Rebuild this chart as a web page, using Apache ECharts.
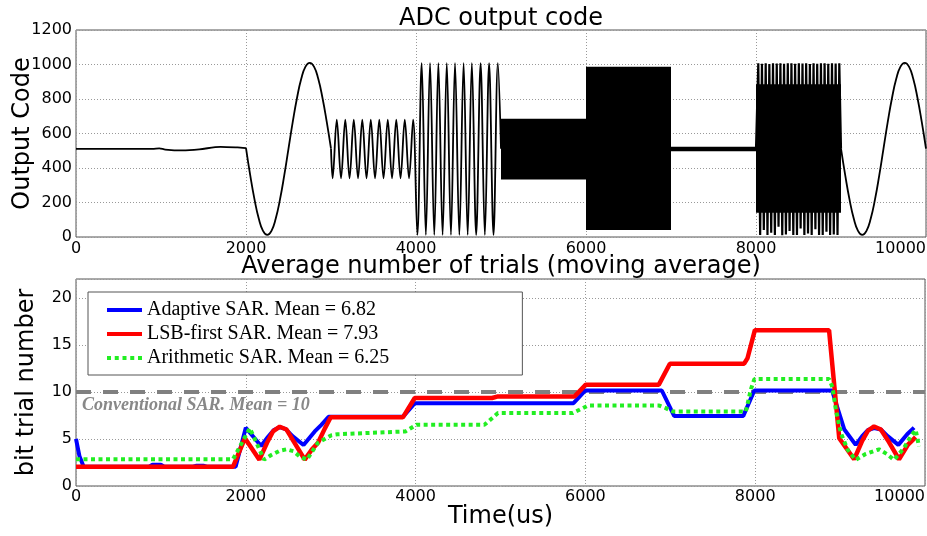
<!DOCTYPE html>
<html><head><meta charset="utf-8">
<script src="https://cdn.jsdelivr.net/npm/echarts@6/dist/echarts.min.js"></script>
<style>html,body{margin:0;padding:0;background:#fff}#c{width:927px;height:536px}</style>
</head><body><div id="c"></div>
<script>
// ================= DATA =================
// Top panel: ADC output code (time in us, code)
const codeFlat = [[0,511],[900,511],[980,514],[1050,507],[1250,502],[1450,508],[1700,523],[1900,519],[2000,515]];
const codeSineA = [[2000,515],[2050,357],[2100,218],[2150,107],[2200,36],[2250,12],[2300,36],[2350,107],[2400,218],[2450,357],[2500,512],[2550,667],[2600,806],[2650,917],[2700,988],[2750,1010],[2800,988],[2850,917],[2900,806],[2950,667],[3000,512]];
const codeOsc = [[3000,512],[3019,340],[3068,680],[3118,340],[3168,680],[3218,340],[3268,680],[3318,340],[3368,680],[3418,340],[3468,680],[3518,340],[3568,680],[3618,340],[3668,680],[3718,340],[3768,680],[3818,340],[3868,680],[3918,340],[3966,680],
  [4016,12],[4067,1008],[4116,12],[4165,1008],[4215,12],[4263,1008],[4313,12],[4362,1008],[4411,12],[4459,1008],[4510,12],[4560,1008],[4608,12],[4657,1008],[4708,12],[4760,1008],[4810,12],[4860,1008],[4912,12],[4963,1008],[5000,512]];
// dense (visually solid) regions: [tStart, tEnd, lowCode, highCode]
const codeBands = [[5000,6000,334,686],[6000,7000,40,987],[8000,9000,140,885]];
const codeMid = [[7000,510],[8000,510]];
const teethTop = [[8027,1007],[8070,1005],[8114,1007],[8157,1003],[8200,1007],[8244,1006],[8287,1007],[8330,1004],[8374,1007],[8417,1007],[8460,1005],[8504,1007],[8547,1006],[8590,1007],[8634,1003],[8677,1007],[8720,1005],[8764,1007],[8807,1007],[8850,1004],[8894,1007],[8937,1006],[8980,1007]];
const teethBottom = [[8000,512],[8049,12],[8092,40],[8135,12],[8179,25],[8222,12],[8265,60],[8309,10],[8352,14],[8395,35],[8439,12],[8482,12],[8525,50],[8569,12],[8612,20],[8655,12],[8699,45],[8742,12],[8785,12],[8829,30],[8872,12],[8915,15],[8959,12],[9000,512]];
const codeSineB = [[9000,512],[9050,357],[9100,218],[9150,107],[9200,36],[9250,12],[9300,36],[9350,107],[9400,218],[9450,357],[9500,512],[9550,667],[9600,806],[9650,917],[9700,988],[9750,1010],[9800,988],[9850,917],[9900,806],[9950,667],[10000,512]];

// Bottom panel: moving-average bit trial number
const adaptiveName = 'Adaptive SAR. Mean = 6.82';
const lsbName = 'LSB-first SAR. Mean = 7.93';
const arithName = 'Arithmetic SAR. Mean = 6.25';
const conventionalText = 'Conventional SAR. Mean = 10';
const adaptive = [[0,5.0],[40,3.2],[90,2.05],[860,2.05],[900,2.25],[1000,2.25],[1040,2.05],[1380,2.05],[1420,2.15],[1500,2.15],[1540,2.05],[1880,2.05],[2000,6.2],[2180,4.25],[2260,5.2],[2330,5.95],[2400,6.25],[2470,6.05],[2550,5.3],[2680,4.35],[2812,5.8],[2890,6.5],[2975,7.35],[3850,7.35],[3990,8.8],[5860,8.8],[6000,10.15],[6900,10.15],[7045,7.45],[7860,7.45],[7990,10.15],[8905,10.15],[9050,6.0],[9184,4.37],[9260,5.3],[9330,5.95],[9400,6.15],[9480,6.0],[9560,5.3],[9686,4.37],[9790,5.5],[9871,6.2]];
const lsbFirst = [[0,2.05],[1850,2.05],[1990,5.08],[2160,2.8],[2250,4.6],[2320,5.8],[2400,6.3],[2480,6.0],[2560,4.8],[2694,2.8],[2780,3.9],[2851,4.6],[2930,6.1],[3000,7.3],[3850,7.3],[3990,9.35],[4900,9.35],[4960,9.5],[5870,9.5],[6005,10.77],[6865,10.77],[6995,13.0],[7870,13.0],[7910,13.6],[7996,16.56],[8870,16.56],[8990,5.08],[9165,2.84],[9260,4.8],[9330,5.9],[9400,6.33],[9480,6.0],[9560,4.9],[9694,2.84],[9800,4.4],[9890,5.2]];
const arithmetic = [[0,2.85],[1850,2.85],[2047,6.15],[2110,4.9],[2215,2.8],[2300,3.3],[2400,3.75],[2480,3.9],[2560,3.7],[2640,3.1],[2720,2.8],[2850,4.6],[2930,5.0],[3010,5.4],[3080,5.5],[3880,5.8],[4010,6.5],[4810,6.5],[4900,7.2],[4970,7.75],[5850,7.75],[5930,8.1],[6030,8.55],[6870,8.55],[6940,8.3],[7030,7.92],[7890,7.92],[7950,10.3],[7990,11.37],[8870,11.37],[8910,10.5],[8950,8.1],[9010,5.6],[9090,3.84],[9184,2.77],[9300,3.4],[9459,3.9],[9550,3.4],[9635,2.77],[9750,4.0],[9831,5.26],[9890,5.97],[9929,4.2]];
const conventional = [[0,10],[10000,10]];

// ================= CHART =================
const teeth = teethBottom.concat(teethTop).sort((a, b) => a[0] - b[0]);
const FONT = 'DejaVu Sans';
const SERIF = 'Liberation Serif';
const chart = echarts.init(document.getElementById('c'), null, {renderer: 'canvas'});
const plain = v => String(v);

const xAxisBase = {
  type: 'value', min: 0, max: 10000, interval: 2000,
  axisLine: {show: false}, axisTick: {show: false},
  axisLabel: {fontFamily: FONT, fontSize: 16, color: '#000', margin: 4, alignMaxLabel: 'right', formatter: plain},
  splitLine: {show: true, lineStyle: {color: '#999', type: [1, 2], width: 1}}
};
const blackLine = (data, smooth, width) => ({
  type: 'line', xAxisIndex: 0, yAxisIndex: 0, data, smooth, symbol: 'none',
  lineStyle: {color: '#000', width: width || 1.8}, silent: true, z: 3
});

const option = {
  animation: false,
  backgroundColor: '#fff',
  title: [
    {text: 'ADC output code', left: 501, top: 7, textAlign: 'center', padding: 0,
     textStyle: {fontFamily: FONT, fontSize: 24, fontWeight: 'normal', color: '#000'}},
    {text: 'Average number of trials (moving average)', left: 501, top: 255, textAlign: 'center', padding: 0,
     textStyle: {fontFamily: FONT, fontSize: 24, fontWeight: 'normal', color: '#000'}}
  ],
  grid: [
    {left: 76, top: 30, right: 1, height: 207, show: true, borderColor: '#555', borderWidth: 1, outerBoundsMode: 'none', containLabel: false},
    {left: 76, top: 279, right: 2, height: 207, show: true, borderColor: '#555', borderWidth: 1, outerBoundsMode: 'none', containLabel: false}
  ],
  xAxis: [
    Object.assign({}, xAxisBase, {gridIndex: 0}),
    Object.assign({}, xAxisBase, {gridIndex: 1, name: 'Time(us)', nameLocation: 'middle', nameGap: 19, nameMoveOverlap: false,
      nameTextStyle: {fontFamily: FONT, fontSize: 24, color: '#000'},
      axisLabel: Object.assign({}, xAxisBase.axisLabel, {margin: 3})})
  ],
  yAxis: [
    {type: 'value', gridIndex: 0, min: 0, max: 1200, interval: 200,
     name: 'Output Code', nameLocation: 'middle', nameGap: 41, nameRotate: 90, nameMoveOverlap: false,
     nameTextStyle: {fontFamily: FONT, fontSize: 24, color: '#000'},
     axisLine: {show: false}, axisTick: {show: false},
     axisLabel: {fontFamily: FONT, fontSize: 16, color: '#000', margin: 4, formatter: plain},
     splitLine: {show: true, lineStyle: {color: '#999', type: [1, 2], width: 1}}},
    {type: 'value', gridIndex: 1, min: 0, max: 22, interval: 5,
     name: 'bit trial number', nameLocation: 'middle', nameGap: 37, nameRotate: 90, nameMoveOverlap: false,
     nameTextStyle: {fontFamily: FONT, fontSize: 24, color: '#000'},
     axisLine: {show: false}, axisTick: {show: false},
     axisLabel: {fontFamily: FONT, fontSize: 16, color: '#000', margin: 4, showMaxLabel: false, formatter: plain},
     splitLine: {show: true, lineStyle: {color: '#999', type: [1, 2], width: 1}}}
  ],
  legend: {
    left: 88, top: 292, orient: 'vertical',
    padding: [8, 133, 7, 19], itemWidth: 35, itemHeight: 4, itemGap: 4,
    borderColor: '#555', borderWidth: 1, backgroundColor: '#fff',
    textStyle: {fontFamily: SERIF, fontSize: 20, color: '#000', lineHeight: 19},
    data: [
      {name: adaptiveName, icon: 'rect'},
      {name: lsbName, icon: 'rect'},
      {name: arithName, icon: 'path://M0,0h4v4h-4zM7.75,0h4v4h-4zM15.5,0h4v4h-4zM23.25,0h4v4h-4zM31,0h4v4h-4z'}
    ]
  },
  graphic: [
    {type: 'text', left: 82, top: 396, z: 10,
     style: {text: conventionalText, fontFamily: SERIF, fontSize: 18, fontStyle: 'italic', fontWeight: 'bold', fill: '#888'}}
  ],
  series: [
    blackLine(codeFlat, 0.3),
    blackLine(codeSineA, 0.5),
    blackLine(codeOsc, 0.363),
    {
      type: 'custom', xAxisIndex: 0, yAxisIndex: 0, data: codeBands, silent: true, z: 3,
      encode: {x: [0, 1], y: [2, 3]},
      renderItem: (params, api) => {
        const a = api.coord([api.value(0), api.value(3)]);
        const b = api.coord([api.value(1), api.value(2)]);
        return {type: 'rect', shape: {x: a[0], y: a[1], width: b[0] - a[0], height: b[1] - a[1]}, style: {fill: '#000'}};
      }
    },
    blackLine(codeMid, false, 4.5),
    blackLine(teeth, false, 2.2),
    blackLine(codeSineB, 0.5),
    {name: 'Conventional SAR', type: 'line', xAxisIndex: 1, yAxisIndex: 1, data: conventional, symbol: 'none', silent: true,
     lineStyle: {color: '#808080', width: 4, type: [15, 12]}},
    {name: adaptiveName, type: 'line', xAxisIndex: 1, yAxisIndex: 1, data: adaptive, symbol: 'none',
     itemStyle: {color: '#0000ff'}, lineStyle: {color: '#0000ff', width: 4}},
    {name: lsbName, type: 'line', xAxisIndex: 1, yAxisIndex: 1, data: lsbFirst, symbol: 'none',
     itemStyle: {color: '#ff0000'}, lineStyle: {color: '#ff0000', width: 4.5}},
    {name: arithName, type: 'line', xAxisIndex: 1, yAxisIndex: 1, data: arithmetic, symbol: 'none',
     itemStyle: {color: '#22ee22'}, lineStyle: {color: '#22ee22', width: 4, type: [4, 3.5]}}
  ]
};
chart.setOption(option);
</script>
</body></html>
